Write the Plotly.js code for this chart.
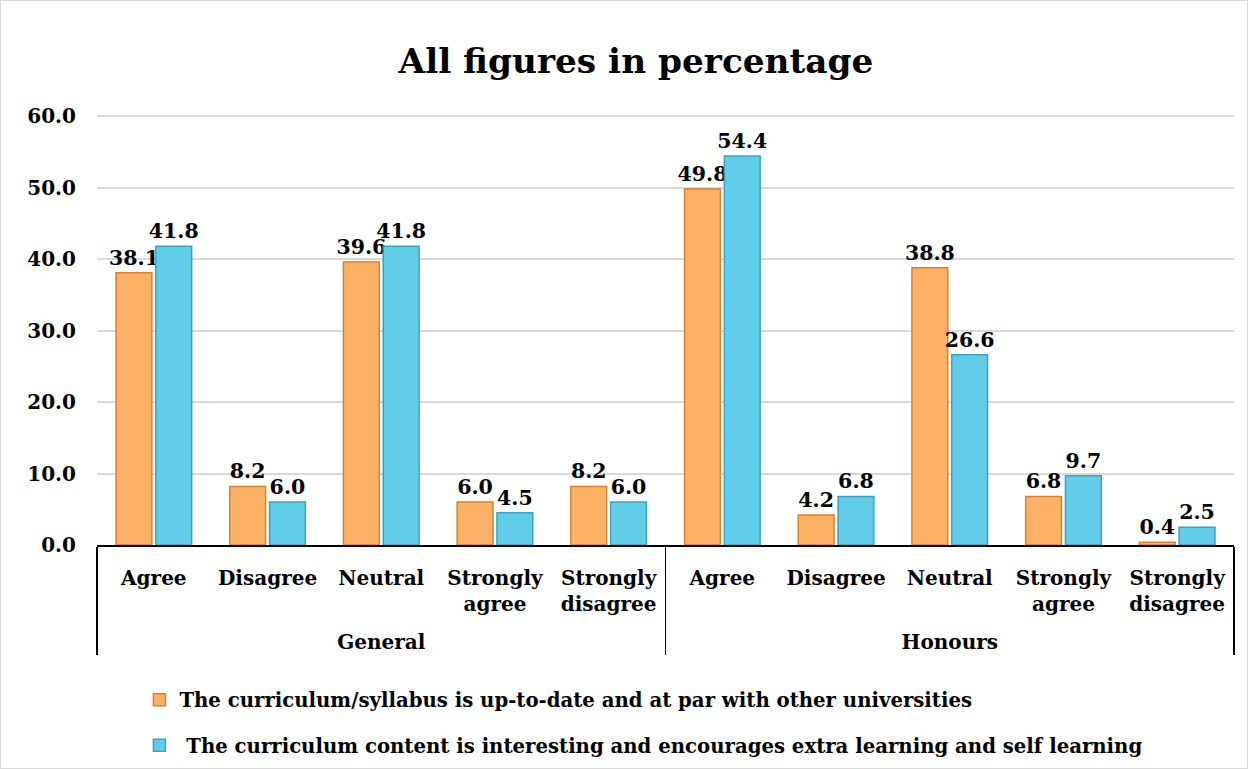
<!DOCTYPE html>
<html>
<head>
<meta charset="utf-8">
<script src="https://cdn.plot.ly/plotly-3.0.1.min.js"></script>
<style>
html,body{margin:0;padding:0;background:#fff;}
#chart{width:1246px;height:767px;border:1px solid #d9d9d9;}
</style>
</head>
<body>
<div id="chart"></div>
<script>
const groups = ["<br>General","<br>General","<br>General","<br>General","<br>General","<br>Honours","<br>Honours","<br>Honours","<br>Honours","<br>Honours"];
const responses = ["Agree","Disagree","Neutral","Strongly<br>agree","Strongly<br>disagree","Agree","Disagree","Neutral","Strongly<br>agree","Strongly<br>disagree"];
const seriesNames = [
  "The curriculum/syllabus is up-to-date and at par with other universities",
  " The curriculum content is interesting and encourages extra learning and self learning"
];
const upToDate = [38.1, 8.2, 39.6, 6.0, 8.2, 49.8, 4.2, 38.8, 6.8, 0.4];
const interesting = [41.8, 6.0, 41.8, 4.5, 6.0, 54.4, 6.8, 26.6, 9.7, 2.5];
const yTicks = [0, 10, 20, 30, 40, 50, 60];

const FONT = "DejaVu Serif";
function mk(vals, name, fill, line, grp) {
  return {
    type: "bar",
    x: [groups, responses],
    y: vals,
    name: name,
    legendgroup: grp,
    marker: {color: fill, line: {color: line, width: 1.5}},
    text: vals.map(v => v.toFixed(1)),
    textposition: "outside",
    constraintext: "none",
    cliponaxis: false,
    textfont: {family: FONT, size: 20.5, color: "#000", weight: "bold"},
    hoverinfo: "y"
  };
}
const data = [
  mk(upToDate, seriesNames[0], "#FDB165", "#D9812C", "a"),
  mk(interesting, seriesNames[1], "#62CDE8", "#3AA3C0", "b")
];
const layout = {
  width: 1246, height: 767,
  paper_bgcolor: "#fff", plot_bgcolor: "#fff",
  margin: {l: 96, r: 13, t: 114, b: 223, autoexpand: false},
  title: {text: "<b>All figures in percentage</b>", x: 0.5096, xanchor: "center", y: 0.922, yanchor: "middle",
          font: {family: FONT, size: 34.3, color: "#000"}},
  font: {family: FONT, color: "#000"},
  barmode: "group", bargap: 0.30, bargroupgap: 0.1,
  showlegend: true,
  legend: {orientation: "v", x: 0.0373, xanchor: "left", y: -0.315, yanchor: "top",
           font: {family: FONT, size: 19.7, color: "#000", weight: "bold"},
           tracegroupgap: 17, itemwidth: 30, traceorder: "grouped"},
  xaxis: {type: "multicategory", showline: true, linecolor: "#000", linewidth: 2,
          tickfont: {family: FONT, size: 20, color: "#000", weight: "bold"},
          showdividers: true, dividercolor: "#000", dividerwidth: 1.5,
          ticks: "", showgrid: false, automargin: false, ticklabelstandoff: 14},
  yaxis: {range: [0, 60.15], tickvals: yTicks, ticktext: yTicks.map(v => "<b>" + v.toFixed(1) + "</b>"),
          showgrid: true, gridcolor: "#d9d9d9", gridwidth: 2, zeroline: false, showline: false,
          tickfont: {family: FONT, size: 20, color: "#000"}, ticklen: 0, ticks: "", automargin: false,
          ticklabelstandoff: 20}
};
Plotly.newPlot("chart", data, layout, {displayModeBar: false, staticPlot: true});
</script>
</body>
</html>
